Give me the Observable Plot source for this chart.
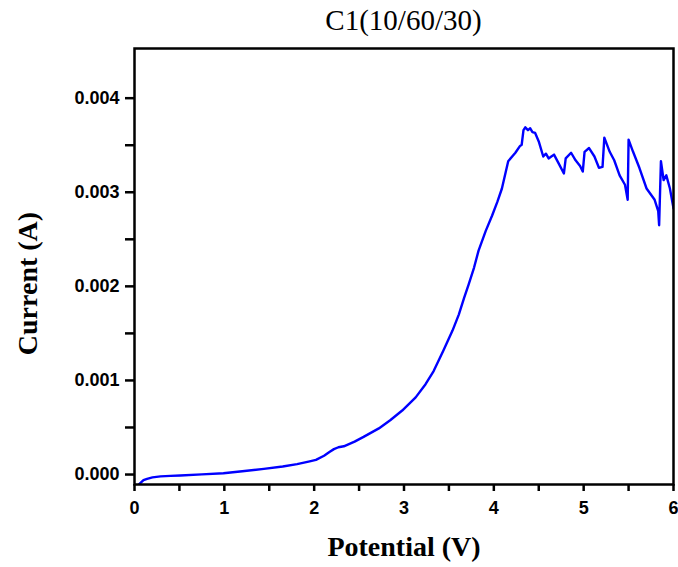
<!DOCTYPE html>
<html>
<head>
<meta charset="utf-8">
<script src="https://cdn.jsdelivr.net/npm/d3@7"></script>
<script src="https://cdn.jsdelivr.net/npm/@observablehq/plot@0.6"></script>
<style>
  body { margin: 0; background: white; }
  #title { width: 549px; padding-left: 129px; height: 36px; padding-top: 4px; text-align: center;
           font-family: "Liberation Serif", serif; font-size: 29px; line-height: 32px; color: #000; }
</style>
</head>
<body>
<div id="title">C1(10/60/30)</div>
<div id="chart"></div>
<script>
const titleText = "C1(10/60/30)";
const xLabel = "Potential (V)";
const yLabel = "Current (A)";

const potential = [
  0.05, 0.10, 0.14, 0.20, 0.29, 0.40, 0.51, 0.75, 0.99, 1.20,
  1.44, 1.65, 1.81, 1.95, 2.02, 2.11, 2.17, 2.22, 2.27, 2.33,
  2.45, 2.55, 2.72, 2.85, 2.98, 3.13, 3.24, 3.33, 3.44, 3.54,
  3.61, 3.67, 3.72, 3.78, 3.83, 3.91, 3.98, 4.04, 4.09, 4.16,
  4.24, 4.29, 4.31, 4.33, 4.35, 4.38, 4.405, 4.43, 4.46, 4.50,
  4.55, 4.58, 4.61, 4.64, 4.67, 4.72, 4.78, 4.80, 4.86, 4.91,
  4.96, 4.99, 5.01, 5.06, 5.12, 5.17, 5.21, 5.23, 5.29, 5.34,
  5.40, 5.46, 5.49, 5.50, 5.55, 5.62, 5.70, 5.79, 5.83, 5.84,
  5.86, 5.89, 5.92, 5.96, 6.00
];
const current = [
  -0.000105, -0.00006, -0.000046, -0.00003, -0.00002, -0.000014, -0.00001, 0.000002, 0.000014, 0.000035,
  0.00006, 0.000085, 0.00011, 0.00014, 0.000156, 0.0002, 0.00024, 0.00027, 0.00029, 0.0003,
  0.00035, 0.0004, 0.00049, 0.00058, 0.00068, 0.00082, 0.00096, 0.0011, 0.00132, 0.00153,
  0.0017, 0.00188, 0.00202, 0.0022, 0.00238, 0.00259, 0.00275, 0.0029, 0.00304, 0.00333,
  0.00342, 0.00349, 0.003505, 0.00366, 0.00369, 0.00366, 0.00368, 0.00364, 0.00363, 0.00354,
  0.00338, 0.00341, 0.00336, 0.00338, 0.0034, 0.00331, 0.0032, 0.00336, 0.00342, 0.00334,
  0.00328, 0.00322, 0.00343, 0.00347, 0.00338, 0.00326, 0.00327, 0.00358, 0.00343, 0.00334,
  0.00318, 0.00308, 0.00292, 0.00356, 0.00343, 0.00326, 0.00304, 0.00292, 0.0028, 0.00265,
  0.00333, 0.00313, 0.00318, 0.00304, 0.00283
];

const xTicks = [0, 1, 2, 3, 4, 5, 6];
const xMinor = [0.5, 1.5, 2.5, 3.5, 4.5, 5.5];
const yTicks = [0, 0.001, 0.002, 0.003, 0.004];
const yMinor = [0.0005, 0.0015, 0.0025, 0.0035];

document.getElementById("title").textContent = titleText;

const data = potential.map((v, k) => ({v, i: current[k]}));
const tickFont = {fontFamily: "'Liberation Sans', Arial, sans-serif", fontSize: 18, fontWeight: "bold", fill: "#000"};
const titleFont = {fontFamily: "'Liberation Serif', serif", fontSize: 28, fontWeight: "bold", fill: "#000"};

const chart = Plot.plot({
  width: 678,
  height: 527,
  marginTop: 8,
  marginBottom: 83,
  marginLeft: 134,
  marginRight: 5,
  x: {domain: [0, 6]},
  y: {domain: [-0.000106, 0.004528]},
  style: {fontFamily: "'Liberation Sans', Arial, sans-serif", fontSize: "18px", fontWeight: "bold", color: "#000", background: "white"},
  marks: [
    Plot.line(data, {x: "v", y: "i", stroke: "#0000ff", strokeWidth: 2.4, clip: true}),
    Plot.frame({stroke: "#000", strokeWidth: 2.5}),
    Plot.axisX({ticks: xTicks, tickSize: 7, tickPadding: 10, strokeWidth: 2.5, stroke: "#000", tickFormat: d3.format("d"), label: null, ...tickFont}),
    Plot.axisX({ticks: xMinor, tickSize: 7, strokeWidth: 2.5, stroke: "#000", tickFormat: () => "", label: null}),
    Plot.axisY({ticks: yTicks, tickSize: 9, tickPadding: 6, strokeWidth: 2.5, stroke: "#000", tickFormat: d3.format(".3f"), label: null, ...tickFont}),
    Plot.axisY({ticks: yMinor, tickSize: 9, strokeWidth: 2.5, stroke: "#000", tickFormat: () => "", label: null}),
    Plot.text([xLabel], {frameAnchor: "bottom", dy: 63, lineAnchor: "middle", textAnchor: "middle", text: d => d, ...titleFont}),
    Plot.text([yLabel], {frameAnchor: "left", dx: -106, dy: 17, rotate: -90, lineAnchor: "middle", textAnchor: "middle", text: d => d, ...titleFont})
  ]
});
// enforce tick-label font on the axis text generated by Plot
chart.querySelectorAll("g[aria-label*='tick label'] text").forEach(t => {
  t.style.fontSize = "18px";
  t.style.fontWeight = "bold";
  t.style.fontFamily = "'Liberation Sans', Arial, sans-serif";
});
document.getElementById("chart").appendChild(chart);
</script>
</body>
</html>
